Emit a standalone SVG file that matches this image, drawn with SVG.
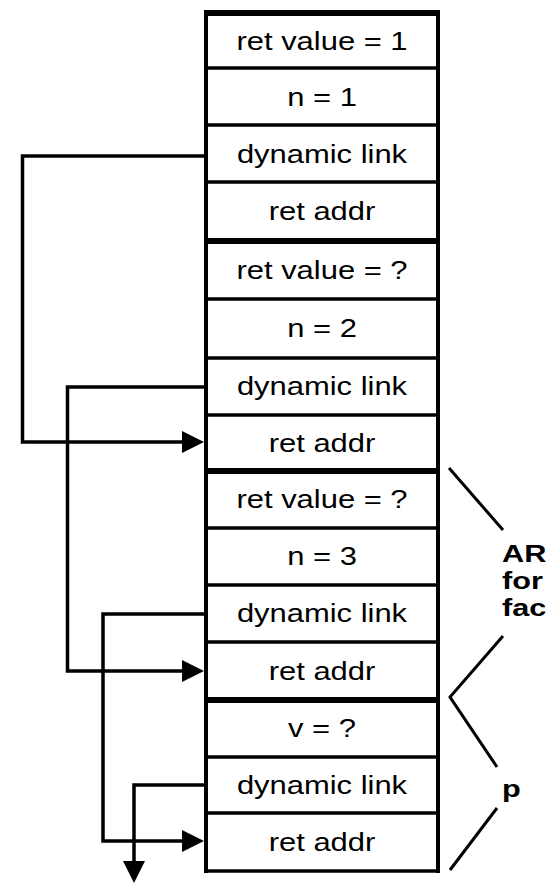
<svg xmlns="http://www.w3.org/2000/svg" width="554" height="884" viewBox="0 0 554 884">
  <style>
    .edge { stroke: #000; stroke-width: 4; fill: none; }
    .div { stroke: #000; stroke-width: 3.5; }
    .frame { stroke: #000; stroke-width: 6; }
    .lbl { font-family: "Liberation Sans", Arial, sans-serif; font-size: 26px; fill: #000; text-anchor: middle; }
    .side { font-family: "Liberation Sans", Arial, sans-serif; font-size: 24px; font-weight: bold; fill: #000; }
    .link { stroke: #000; stroke-width: 3.5; fill: none; }
    .brace { stroke: #000; stroke-width: 3; fill: none; }
  </style>
  <defs>
    <marker id="head" markerUnits="userSpaceOnUse" markerWidth="22" markerHeight="22" refX="0" refY="11" orient="auto">
      <path d="M0,0 L22,11 L0,22 Z" fill="#000"/>
    </marker>
  </defs>

  <!-- stack column: one group per slot -->
  <g id="stack">
    <g id="slot-ret-value-1"><text class="lbl" transform="translate(322,50) scale(1.19,1)">ret value = 1</text></g>
    <g id="slot-n-1"><text class="lbl" transform="translate(322,106) scale(1.19,1)">n = 1</text></g>
    <g id="slot-dl-1"><text class="lbl" transform="translate(322,163) scale(1.19,1)">dynamic link</text></g>
    <g id="slot-ra-1"><text class="lbl" transform="translate(322,220) scale(1.19,1)">ret addr</text></g>

    <g id="slot-ret-value-2"><text class="lbl" transform="translate(322,279) scale(1.19,1)">ret value = ?</text></g>
    <g id="slot-n-2"><text class="lbl" transform="translate(322,337) scale(1.19,1)">n = 2</text></g>
    <g id="slot-dl-2"><text class="lbl" transform="translate(322,395) scale(1.19,1)">dynamic link</text></g>
    <g id="slot-ra-2"><text class="lbl" transform="translate(322,452) scale(1.19,1)">ret addr</text></g>

    <g id="slot-ret-value-3"><text class="lbl" transform="translate(322,508) scale(1.19,1)">ret value = ?</text></g>
    <g id="slot-n-3"><text class="lbl" transform="translate(322,565) scale(1.19,1)">n = 3</text></g>
    <g id="slot-dl-3"><text class="lbl" transform="translate(322,622) scale(1.19,1)">dynamic link</text></g>
    <g id="slot-ra-3"><text class="lbl" transform="translate(322,680) scale(1.19,1)">ret addr</text></g>

    <g id="slot-v"><text class="lbl" transform="translate(322,737) scale(1.19,1)">v = ?</text></g>
    <g id="slot-dl-p"><text class="lbl" transform="translate(322,794) scale(1.19,1)">dynamic link</text></g>
    <g id="slot-ra-p"><text class="lbl" transform="translate(322,851) scale(1.19,1)">ret addr</text></g>

    <!-- slot dividers -->
    <g id="dividers">
      <line class="div" x1="206" y1="68" x2="438" y2="68"/>
      <line class="div" x1="206" y1="125" x2="438" y2="125"/>
      <line class="div" x1="206" y1="182" x2="438" y2="182"/>
      <line class="div" x1="206" y1="299" x2="438" y2="299"/>
      <line class="div" x1="206" y1="358" x2="438" y2="358"/>
      <line class="div" x1="206" y1="415" x2="438" y2="415"/>
      <line class="div" x1="206" y1="528" x2="438" y2="528"/>
      <line class="div" x1="206" y1="585" x2="438" y2="585"/>
      <line class="div" x1="206" y1="642" x2="438" y2="642"/>
      <line class="div" x1="206" y1="757" x2="438" y2="757"/>
      <line class="div" x1="206" y1="813" x2="438" y2="813"/>
      <line class="div" x1="206" y1="871" x2="438" y2="871"/>
      <!-- frame boundaries between activation records -->
      <line class="frame" x1="204" y1="13" x2="440" y2="13"/>
      <line class="frame" x1="206" y1="241" x2="440" y2="241"/>
      <line class="frame" x1="206" y1="471" x2="440" y2="471"/>
      <line class="frame" x1="206" y1="700" x2="440" y2="700"/>
    </g>
    <line class="edge" x1="206" y1="11" x2="206" y2="873"/>
    <line class="edge" x1="438" y1="11" x2="438" y2="873"/>
  </g>

  <!-- dynamic link chain -->
  <g id="connectors">
    <path class="link" d="M206,156 H22.5 V442 H182" marker-end="url(#head)"/>
    <path class="link" d="M206,387 H67.5 V671 H182" marker-end="url(#head)"/>
    <path class="link" d="M206,614 H103 V841 H182" marker-end="url(#head)"/>
    <path class="link" d="M206,785 H134 V861" marker-end="url(#head)"/>
  </g>

  <!-- record labels with brackets -->
  <g id="label-ar">
    <line class="brace" x1="449" y1="468" x2="503" y2="530"/>
    <polyline class="brace" points="503,636 450,697 497,767"/>
    <text class="side" transform="translate(502,562) scale(1.28,1)">AR</text>
    <text class="side" transform="translate(502,589) scale(1.28,1)">for</text>
    <text class="side" transform="translate(502,616) scale(1.28,1)">fac</text>
  </g>
  <g id="label-p">
    <line class="brace" x1="497" y1="808" x2="450" y2="870"/>
    <text class="side" transform="translate(502,797) scale(1.28,1)">p</text>
  </g>
</svg>
